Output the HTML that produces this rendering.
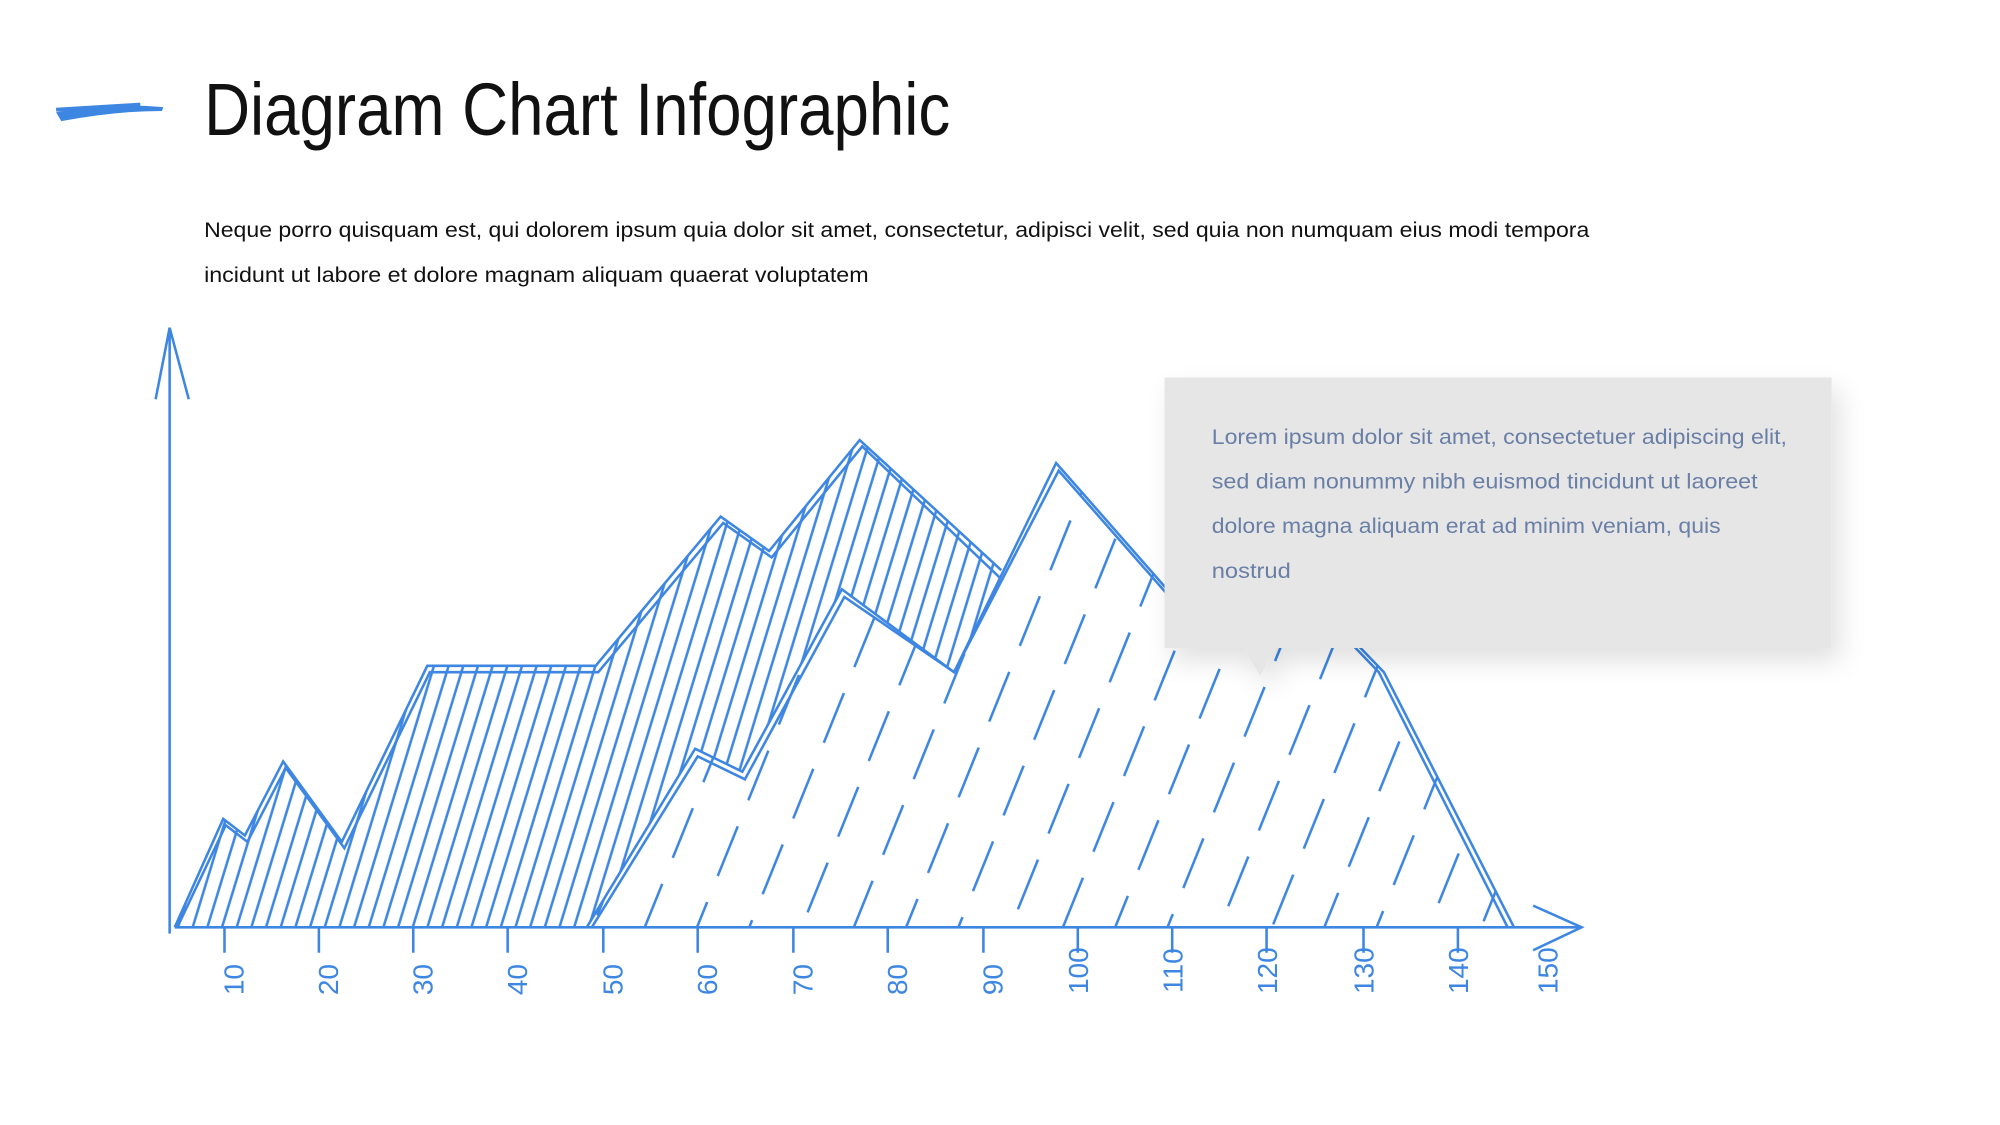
<!DOCTYPE html>
<html><head><meta charset="utf-8"><style>
html,body{margin:0;padding:0;background:#fff;overflow:hidden}
#w{width:1568px;height:882px;transform:scale(1.2755);transform-origin:0 0;position:relative}
svg{position:absolute;left:0;top:0}
</style></head><body><div id="w">
<svg width="1568" height="882" viewBox="0 0 1568 882">
<defs>
<pattern id="hs" width="11" height="40" patternUnits="userSpaceOnUse" patternTransform="rotate(17)">
<line x1="5" y1="0" x2="5" y2="40" stroke="#3d86e2" stroke-width="2"/>
</pattern>
<pattern id="hd" width="38" height="64" patternUnits="userSpaceOnUse" patternTransform="rotate(22)">
<line x1="19" y1="0" x2="19" y2="64" stroke="#3d86e2" stroke-width="2" stroke-dasharray="42 22"/>
</pattern>
<filter id="sh" x="-10%" y="-10%" width="130%" height="140%"><feDropShadow dx="6" dy="10" stdDeviation="10" flood-color="#000" flood-opacity="0.12"/></filter>
</defs>
<path d="M44 88 Q85 80 128 84 L127 87 Q90 87 48 95 Z" fill="#3d86e2"/>
<path d="M44 86 L110 82" stroke="#3d86e2" stroke-width="3"/>
<text x="160" y="106" font-family="Liberation Sans, sans-serif" font-size="58" fill="#111" textLength="585" lengthAdjust="spacingAndGlyphs">Diagram Chart Infographic</text>
<text x="160" y="186" font-family="Liberation Sans, sans-serif" font-size="17" fill="#111" textLength="1086" lengthAdjust="spacingAndGlyphs">Neque porro quisquam est, qui dolorem ipsum quia dolor sit amet, consectetur, adipisci velit, sed quia non numquam eius modi tempora</text>
<text x="160" y="221" font-family="Liberation Sans, sans-serif" font-size="17" fill="#111" textLength="521" lengthAdjust="spacingAndGlyphs">incidunt ut labore et dolore magnam aliquam quaerat voluptatem</text>

<polygon points="137,727 175,642 192,655 222,597 268,660 335,522 467,522 565,405 603,432 674,345 785,447 748,527 660,462 582,605 545,587 460,727" fill="url(#hs)"/>
<g fill="none" stroke="#3d86e2" stroke-width="2">
<polyline points="137,727 175,642 192,655 222,597 268,660 335,522 467,522 565,405 603,432 674,345 785,447"/>
<polyline transform="translate(2,5)" points="137,722 175,642 192,655 222,597 268,660 335,522 467,522 565,405 603,432 674,345 783,449"/>
</g>
<polygon points="460,727 545,587 582,605 660,462 748,527 828,363 915,462 960,500 1030,470 1085,527 1187,727" fill="#fff"/>
<polygon points="460,727 545,587 582,605 660,462 748,527 828,363 915,462 960,500 1030,470 1085,527 1187,727" fill="url(#hd)"/>
<g fill="none" stroke="#3d86e2" stroke-width="2">
<polyline points="460,727 545,587 582,605 660,462 748,527 828,363 915,462 960,500 1030,470 1085,527 1187,727"/>
<polyline transform="translate(2,6)" points="462,721 545,587 582,605 660,462 746,521 828,363 915,462 960,500 1030,470 1079,521 1180,721"/>
</g>

<g stroke="#3d86e2" stroke-width="2" fill="none">
<line x1="133" y1="257" x2="133" y2="732"/>
<polyline points="122,313 133,257 148,313"/>
<line x1="137" y1="727" x2="1240" y2="727"/>
<polyline points="1202,710 1240,727 1202,745"/>
<path d="M176 727v20M250 727v20M324 727v20M398 727v20M473 727v20M547 727v20M622 727v20M696 727v20M771 727v20M845 727v20M919 727v20M993 727v20M1069 727v20M1143 727v20"/>
</g>
<g font-family="Liberation Sans, sans-serif" font-size="22" fill="#3d86e2" text-anchor="middle">
<text transform="translate(191,768) rotate(-90)">10</text>
<text transform="translate(265,768) rotate(-90)">20</text>
<text transform="translate(339,768) rotate(-90)">30</text>
<text transform="translate(413,768) rotate(-90)">40</text>
<text transform="translate(488,768) rotate(-90)">50</text>
<text transform="translate(562,768) rotate(-90)">60</text>
<text transform="translate(637,768) rotate(-90)">70</text>
<text transform="translate(711,768) rotate(-90)">80</text>
<text transform="translate(786,768) rotate(-90)">90</text>
<text transform="translate(853,761) rotate(-90)">100</text>
<text transform="translate(927,761) rotate(-90)">110</text>
<text transform="translate(1001,761) rotate(-90)">120</text>
<text transform="translate(1077,761) rotate(-90)">130</text>
<text transform="translate(1151,761) rotate(-90)">140</text>
<text transform="translate(1221,761) rotate(-90)">150</text>
</g>

<g filter="url(#sh)">
<path d="M913 296 H1436 V508 H1000 L988 530 L975 508 H913 Z" fill="#e6e6e6"/>
</g>
<g font-family="Liberation Sans, sans-serif" font-size="17" fill="#6a7fa6">
<text x="950" y="348" textLength="451" lengthAdjust="spacingAndGlyphs">Lorem ipsum dolor sit amet, consectetuer adipiscing elit,</text>
<text x="950" y="383" textLength="428" lengthAdjust="spacingAndGlyphs">sed diam nonummy nibh euismod tincidunt ut laoreet</text>
<text x="950" y="418" textLength="399" lengthAdjust="spacingAndGlyphs">dolore magna aliquam erat ad minim veniam, quis</text>
<text x="950" y="453" textLength="62" lengthAdjust="spacingAndGlyphs">nostrud</text>
</g>
</svg>
</div></body></html>
